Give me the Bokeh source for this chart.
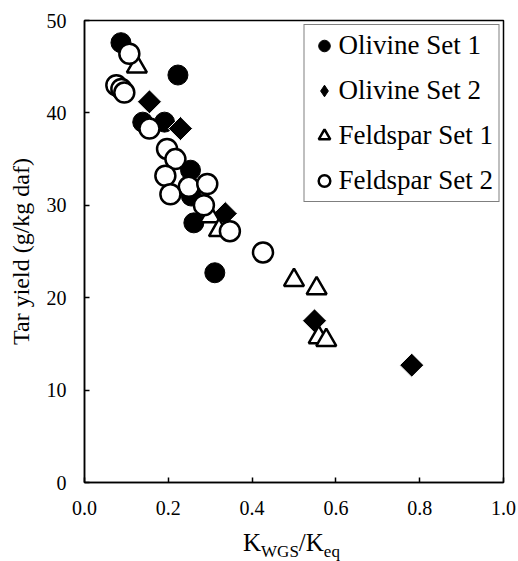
from bokeh.plotting import figure
from bokeh.models import Range1d, SingleIntervalTicker, NumeralTickFormatter, Legend, LegendItem, Div
from bokeh.layouts import column
from bokeh.embed import file_html
from bokeh.resources import INLINE
import math

# Olivine Set 1 (filled circles)
ol1_x = [0.087, 0.223, 0.139, 0.191, 0.253, 0.255, 0.261, 0.311]
ol1_y = [47.6, 44.1, 39.0, 39.0, 33.8, 31.0, 28.1, 22.7]
# Olivine Set 2 (filled diamonds)
ol2_x = [0.155, 0.229, 0.336, 0.549, 0.781]
ol2_y = [41.2, 38.3, 29.1, 17.5, 12.7]
# Feldspar Set 1 (open triangles)
fe1_x = [0.125, 0.300, 0.321, 0.500, 0.554, 0.559, 0.577]
fe1_y = [45.0, 28.8, 27.3, 21.9, 21.0, 15.7, 15.4]
# Feldspar Set 2 (open circles)
fe2_x = [0.107, 0.076, 0.088, 0.095, 0.155, 0.197, 0.217, 0.193, 0.249, 0.293, 0.205, 0.285, 0.347, 0.426]
fe2_y = [46.4, 43.0, 42.6, 42.2, 38.3, 36.1, 35.0, 33.2, 32.0, 32.3, 31.2, 30.0, 27.2, 24.9]

series_names = ["Olivine Set 1", "Olivine Set 2", "Feldspar Set 1", "Feldspar Set 2"]

FONT = "'Liberation Serif', serif"

p = figure(width=518, height=530, output_backend="svg", toolbar_location=None,
           x_range=Range1d(0, 1), y_range=Range1d(0, 50),
           min_border_left=84, min_border_right=15, min_border_top=20, min_border_bottom=48)
p.grid.visible = False
p.background_fill_color = "white"
p.border_fill_color = "white"
p.outline_line_color = "black"
p.outline_line_width = 1.5

p.xaxis.ticker = SingleIntervalTicker(interval=0.2)
p.yaxis.ticker = SingleIntervalTicker(interval=10)
p.xaxis.formatter = NumeralTickFormatter(format="0.0")
p.yaxis.formatter = NumeralTickFormatter(format="0")
for ax in (p.xaxis, p.yaxis):
    ax.major_tick_in = 5
    ax.major_tick_out = 0
    ax.minor_tick_line_color = None
    ax.axis_line_color = "black"
    ax.axis_line_width = 1.5
    ax.major_tick_line_color = "black"
    ax.major_tick_line_width = 1.5
    ax.major_label_text_font = FONT
    ax.major_label_text_font_size = "20px"
    ax.major_label_text_color = "black"
    ax.major_label_standoff = 14
p.yaxis.axis_label = "Tar yield (g/kg daf)"
p.yaxis.axis_label_text_font = FONT
p.yaxis.axis_label_text_font_size = "24px"
p.yaxis.axis_label_text_font_style = "normal"
p.yaxis.axis_label_text_color = "black"
p.yaxis.axis_label_standoff = 10

r1 = p.scatter(ol1_x, ol1_y, marker="circle", size=20, fill_color="black", line_color="black", line_width=1)
# narrow diamonds underneath the rotated squares: used as the legend key for this series
r2_key = p.scatter(ol2_x, ol2_y, marker="diamond", size=16, fill_color="black", line_color="black", line_width=1)
r2 = p.scatter(ol2_x, ol2_y, marker="square", angle=math.pi / 4, size=17, fill_color="black",
               line_color="white", line_width=1)
r3 = p.scatter(fe1_x, fe1_y, marker="triangle", size=20, fill_color="white", line_color="black", line_width=2.5)
r4 = p.scatter(fe2_x, fe2_y, marker="circle", size=20, fill_color="white", line_color="black", line_width=2.5)

legend = Legend(items=[LegendItem(label=n, renderers=[r]) for n, r in zip(series_names, [r1, r2_key, r3, r4])],
                location="top_right", margin=4, padding=5, spacing=14,
                glyph_width=29, glyph_height=31, label_standoff=0,
                label_text_font=FONT, label_text_font_size="27px", label_text_color="black",
                border_line_color="black", border_line_width=1.5, background_fill_alpha=1)
p.add_layout(legend, "center")

x_title = ("<div style=\"padding-left:243px; white-space:nowrap; font-family:'Liberation Serif',serif; "
           "font-size:25px; line-height:25px; color:black;\">K"
           "<span style=\"font-size:17px; position:relative; top:6px;\">WGS</span>/K"
           "<span style=\"font-size:17px; position:relative; top:6px;\">eq</span></div>")
div = Div(text=x_title, width=518, height=31, margin=0)

layout = column(p, div, spacing=0)
open("out.html", "w").write(file_html(layout, INLINE))
